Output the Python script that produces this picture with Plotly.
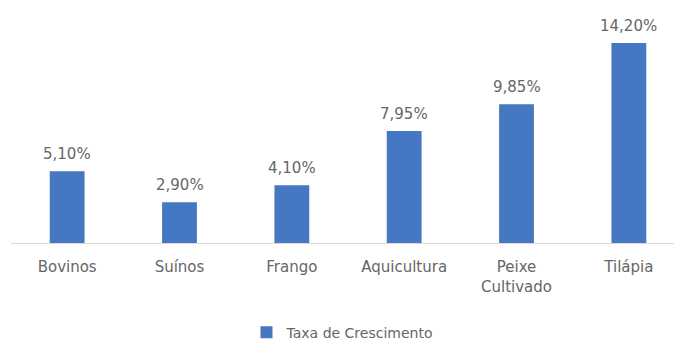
import plotly.graph_objects as go

categorias = ["Bovinos", "Suínos", "Frango", "Aquicultura", "Peixe<br>Cultivado", "Tilápia"]
taxas = [5.10, 2.90, 4.10, 7.95, 9.85, 14.20]
serie = "Taxa de Crescimento"

azul = "#4677C2"
cinza = "#666666"
fonte = "DejaVu Sans"

def rotulo(v):
    return f"{v:.2f}%".replace(".", ",")

fig = go.Figure(
    go.Bar(
        x=categorias,
        y=taxas,
        name=serie,
        marker=dict(color=azul, line=dict(width=0)),
        width=0.31,
        showlegend=True,
    )
)

for c, v in zip(categorias, taxas):
    fig.add_annotation(
        x=c, y=v, text=rotulo(v), showarrow=False,
        yanchor="bottom", yshift=6,
        font=dict(family=fonte, size=15, color=cinza),
    )

fig.update_layout(
    width=674,
    height=343,
    margin=dict(l=11, r=0, t=20, b=100, autoexpand=False),
    paper_bgcolor="white",
    plot_bgcolor="white",
    font=dict(family=fonte, size=15, color=cinza),
    legend=dict(
        orientation="h",
        x=0.50, xanchor="center",
        y=-0.33, yanchor="top",
        font=dict(family=fonte, size=14, color=cinza),
        itemwidth=30,
    ),
    xaxis=dict(
        range=[-0.5, 5.402],
        showgrid=False,
        showline=True,
        linecolor="#d9d9d9",
        linewidth=1,
        ticks="",
        ticklabelstandoff=10,
        tickfont=dict(family=fonte, size=15, color=cinza),
    ),
    yaxis=dict(
        range=[0, 15.84],
        visible=False,
        showgrid=False,
        zeroline=False,
    ),
)

fig.write_html("out.html")
